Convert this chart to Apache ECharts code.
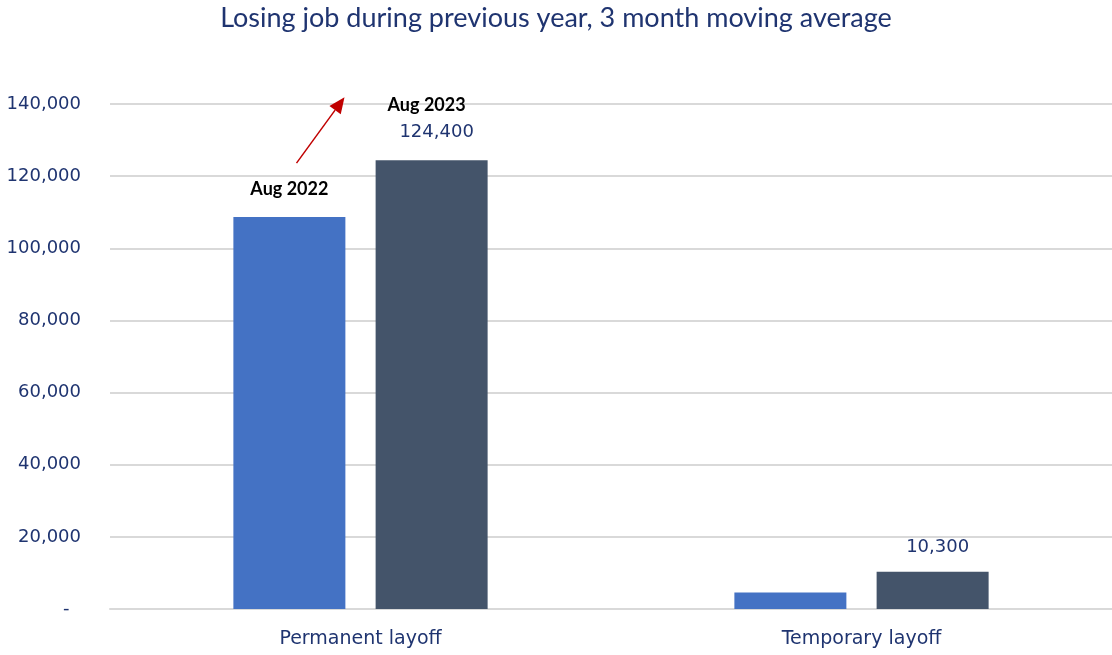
<!DOCTYPE html>
<html>
<head>
<meta charset="utf-8">
<script src="https://cdn.jsdelivr.net/npm/echarts@6/dist/echarts.min.js"></script>
<style>
  html, body { margin: 0; padding: 0; background: #fff; }
  #chart { width: 1112px; height: 655px; }
</style>
</head>
<body>
<div id="chart"></div>
<script>
const categories = ["Permanent layoff", "Temporary layoff"];
const aug2022 = [108700, 4600];
const aug2023 = [124400, 10300];
const yTicks = [0, 20000, 40000, 60000, 80000, 100000, 120000, 140000];

const navy = "#1F3470";
const fmt = v => (v === 0 ? "-  " : v.toLocaleString("en-US"));

const chart = echarts.init(document.getElementById("chart"));

const option = {
  animation: false,
  title: {
    text: "Losing job during previous year, 3 month moving average",
    left: "center",
    top: 0,
    textStyle: { color: navy, fontSize: 27, fontWeight: "normal", fontFamily: "Lato" }
  },
  grid: { left: 110, right: 0, top: 104, bottom: 46 },
  xAxis: {
    type: "category",
    data: categories,
    axisLine: { lineStyle: { color: "#d9d9d9", width: 2 } },
    axisTick: { show: false },
    axisLabel: { color: navy, fontSize: 19, fontFamily: "DejaVu Sans", margin: 21 }
  },
  yAxis: {
    type: "value",
    min: yTicks[0],
    max: yTicks[yTicks.length - 1],
    interval: 20000,
    axisLine: { show: false },
    axisTick: { show: false },
    splitLine: { lineStyle: { color: "#d9d9d9", width: 2 } },
    axisLabel: { color: navy, fontSize: 18, fontFamily: "DejaVu Sans", margin: 29, formatter: fmt }
  },
  series: [
    {
      name: "Aug 2022",
      type: "bar",
      barWidth: 112,
      barGap: "27%",
      itemStyle: { color: "#4472C4" },
      data: aug2022.map((v, i) => ({
        value: v,
        label: i === 0 ? {
          show: true, position: "top", distance: 19,
          formatter: "Aug 2022",
          color: "#000", fontWeight: "bold", fontSize: 18, fontFamily: "Lato"
        } : { show: false }
      }))
    },
    {
      name: "Aug 2023",
      type: "bar",
      barWidth: 112,
      itemStyle: { color: "#44546A" },
      data: aug2023.map((v, i) => ({
        value: v,
        label: {
          show: true, position: "top", distance: i === 0 ? 16 : 13,
          formatter: i === 0 ? "{b|Aug 2023}\n{v|" + fmt(v) + "}" : "{v|" + fmt(v) + "}",
          rich: {
            b: { color: "#000", fontWeight: "bold", fontSize: 18, fontFamily: "Lato", lineHeight: 30, padding: [0, 10, 0, 0] },
            v: { color: navy, fontSize: 18, fontFamily: "DejaVu Sans", lineHeight: 24, padding: [0, 0, 0, 10] }
          }
        }
      }))
    }
  ]
};

chart.setOption(option);

// arrow annotation from above the Aug 2022 bar towards the Aug 2023 level
const start = chart.convertToPixel({ gridIndex: 0 }, [categories[0], 123600]);
const end = chart.convertToPixel({ gridIndex: 0 }, [categories[0], 141900]);
const x0 = start[0] - 64, y0 = start[1];
const x1 = end[0] - 16, y1 = end[1];
const ang = Math.atan2(y1 - y0, x1 - x0);
const hl = 16, hw = 7;
const bx = x1 - hl * Math.cos(ang), by = y1 - hl * Math.sin(ang);
chart.setOption({
  graphic: [
    {
      type: "line",
      shape: { x1: x0, y1: y0, x2: bx, y2: by },
      style: { stroke: "#C00000", lineWidth: 1.5 }
    },
    {
      type: "polygon",
      shape: {
        points: [
          [x1, y1],
          [bx + hw * Math.sin(ang), by - hw * Math.cos(ang)],
          [bx - hw * Math.sin(ang), by + hw * Math.cos(ang)]
        ]
      },
      style: { fill: "#C00000" }
    }
  ]
});
</script>
</body>
</html>
